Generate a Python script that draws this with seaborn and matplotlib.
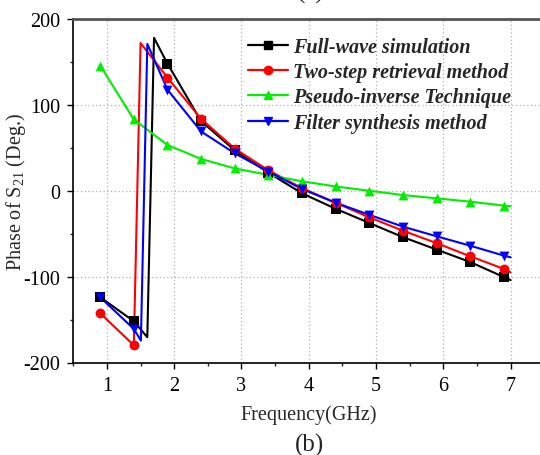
import matplotlib
matplotlib.use("Agg")
import numpy as np
import pandas as pd
import matplotlib.pyplot as plt
import seaborn as sns
from matplotlib.lines import Line2D
from matplotlib.ticker import MultipleLocator

# ─── Data ────────────────────────────────────────────────────────────────────
freq_marks = [0.9, 1.4, 1.9, 2.4, 2.9, 3.4, 3.9, 4.4, 4.9, 5.4, 5.9, 6.4, 6.9]

full_wave  = [-124, -152, 148, 81, 47, 21, -3, -21, -37.5, -54, -68.5, -83, -100.5]
two_step   = [-142.6, -180, 131.7, 83.6, 49, 23.8, 3, -14, -31, -46.5, -61, -76.3, -91]
pseudo_inv = [145.7, 83, 53.3, 37, 26, 18.4, 11, 5, 0, -5, -8.8, -12.7, -17.3]
filter_syn = [-124, -161, 117.7, 69, 43.6, 22.3, 2, -14, -28, -41.8, -53, -64, -75.5]

# extra line vertices (phase wrap corners and line end at 7 GHz)
full_wave_extra_x  = [1.60, 1.70, 7.0]
full_wave_extra_y  = [-170.6, 178, -104]
two_step_extra_x   = [1.50, 7.0]
two_step_extra_y   = [172, -95]
pseudo_inv_extra_x = [7.0]
pseudo_inv_extra_y = [-18]
filter_syn_extra_x = [1.505, 1.60, 7.0]
filter_syn_extra_y = [-174.5, 171, -77.5]

labels = ["Full-wave simulation", "Two-step retrieval method",
          "Pseudo-inverse Technique", "Filter synthesis method"]
colors = ["#000000", "#ff0000", "#00ee00", "#0000ff"]
markers = ["s", "o", "^", "v"]

series = [
    (full_wave, full_wave_extra_x, full_wave_extra_y),
    (two_step, two_step_extra_x, two_step_extra_y),
    (pseudo_inv, pseudo_inv_extra_x, pseudo_inv_extra_y),
    (filter_syn, filter_syn_extra_x, filter_syn_extra_y),
]

# ─── Style ───────────────────────────────────────────────────────────────────
sns.set_theme(style="ticks")
plt.rcParams["font.family"] = ["Liberation Serif", "DejaVu Serif"]
plt.rcParams["mathtext.fontset"] = "custom"
plt.rcParams["mathtext.rm"] = "Liberation Serif"
plt.rcParams["axes.unicode_minus"] = False

fig = plt.figure(figsize=(5.4, 4.56), dpi=100)
ax = fig.add_axes([73.3 / 540, 1 - 363.5 / 456, (544.2 - 73.3) / 540, 343.5 / 456])

for (vals, ex_x, ex_y), lab, col, mk in zip(series, labels, colors, markers):
    line_df = pd.DataFrame({"x": freq_marks + ex_x, "y": vals + ex_y}).sort_values("x")
    sns.lineplot(data=line_df, x="x", y="y", ax=ax, color=col, lw=1.5,
                 sort=False, estimator=None, legend=False)
    mk_df = pd.DataFrame({"x": freq_marks, "y": vals})
    sns.scatterplot(data=mk_df, x="x", y="y", ax=ax, color=col, marker=mk,
                    s=50, edgecolor=col, linewidth=0, legend=False, zorder=3)

ax.set_xlim(0.5, 7.5)
ax.set_ylim(-200, 200)
ax.xaxis.set_major_locator(MultipleLocator(1))
ax.xaxis.set_minor_locator(MultipleLocator(0.5))
ax.yaxis.set_major_locator(MultipleLocator(100))
ax.yaxis.set_minor_locator(MultipleLocator(50))
ax.grid(True, which="major", ls=(0, (1, 2)), color="#b0b0b0", lw=0.9)
ax.tick_params(which="major", direction="out", length=4.5, width=1, labelsize=14.5,
               colors="black", pad=5)
ax.tick_params(which="minor", direction="out", length=2.5, width=1)

for side in ["left", "bottom"]:
    ax.spines[side].set_color("black")
    ax.spines[side].set_linewidth(1.2)
ax.spines["top"].set_color("#555555")
ax.spines["top"].set_linewidth(2)
ax.spines["right"].set_visible(False)

ax.set_xlabel("Frequency(GHz)", fontsize=14.5)
ax.set_ylabel(r"Phase of S$_{\mathregular{21}}$ (Deg.)", fontsize=14.5)
ax.xaxis.set_label_coords(0.5, -(405 - 363.5) / 343.5, transform=ax.transAxes)
ax.xaxis.label.set_va("top")
ax.yaxis.set_label_coords(-(73.3 - 28) / 470.9, 0.5)

handles = [Line2D([], [], color=c, marker=m, lw=1.6, markersize=6)
           for c, m in zip(colors, markers)]
ax.legend(handles, labels, loc="upper left", bbox_to_anchor=(248 / 540, 1 - 38 / 456),
          bbox_transform=fig.transFigure, frameon=False, borderpad=0, borderaxespad=0,
          handlelength=2.0, handletextpad=0.25, labelspacing=0.26,
          prop={"family": "Liberation Serif", "weight": "bold",
                "style": "italic", "size": 14.5})

fig.text(311 / 540, 1 - 4 / 456, "(a)", ha="center", va="bottom", fontsize=18)
fig.text(310 / 540, 1 - 445 / 456, "(b)", ha="center", va="center", fontsize=18)

fig.savefig("out.png", dpi=100)
